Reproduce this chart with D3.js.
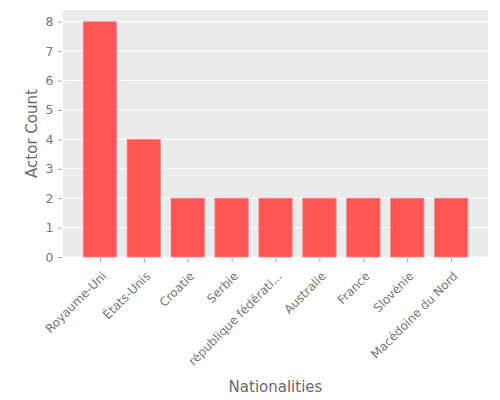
<!DOCTYPE html>
<html>
<head>
<meta charset="utf-8">
<script src="https://cdn.jsdelivr.net/npm/d3@7"></script>
<style>
  html, body { margin: 0; padding: 0; background: #fff; }
  text { font-family: "DejaVu Sans", sans-serif; }
</style>
</head>
<body>
<svg id="chart" width="500" height="400"></svg>
<script>
const categories = ["Royaume-Uni", "États-Unis", "Croatie", "Serbie", "république fédérati...", "Australie", "France", "Slovénie", "Macédoine du Nord"];
const actorCounts = [8, 4, 2, 2, 2, 2, 2, 2, 2];
const yTicks = [0, 1, 2, 3, 4, 5, 6, 7, 8];
const xTitle = "Nationalities";
const yTitle = "Actor Count";

const svg = d3.select("#chart");
const L = 63, R = 488, T = 10, B = 257;

const x = d3.scaleLinear().domain([-0.84, categories.length - 1 + 0.84]).range([L, R]);
const y = d3.scaleLinear().domain([0, 8.4]).range([B, T]);
const barW = 0.76;

svg.append("rect").attr("x", L).attr("y", T).attr("width", R - L).attr("height", B - T).attr("fill", "#EBEBEB");

// grid
svg.append("g").selectAll("line").data(yTicks).join("line")
  .attr("x1", L).attr("x2", R)
  .attr("y1", d => y(d)).attr("y2", d => y(d))
  .attr("stroke", "#fff").attr("stroke-width", 1);

// bars
svg.append("g").selectAll("rect").data(actorCounts).join("rect")
  .attr("x", (d, i) => x(i - barW / 2))
  .attr("width", x(barW) - x(0))
  .attr("y", d => y(d))
  .attr("height", d => y(0) - y(d))
  .attr("fill", "#FF5555")
  .attr("stroke", "#FF8A8A")
  .attr("stroke-width", 0.8);

// y axis
const yAxis = d3.axisLeft(y).tickValues(yTicks).tickSize(3.5).tickPadding(4.5);
const gy = svg.append("g").attr("transform", `translate(${L - 1.5},0)`).call(yAxis);
gy.select(".domain").remove();
gy.selectAll(".tick line").attr("stroke", "#999");
gy.selectAll(".tick text").attr("fill", "#777").attr("font-size", 12.5).attr("font-family", "DejaVu Sans");

// x axis
const xAxis = d3.axisBottom(x).tickValues(categories.map((c, i) => i)).tickFormat(i => categories[i]).tickSize(3.5);
const gx = svg.append("g").attr("transform", `translate(0,${B + 1.5})`).call(xAxis);
gx.select(".domain").remove();
gx.selectAll(".tick line").attr("stroke", "#999");
gx.selectAll(".tick text")
  .attr("fill", "#777").attr("font-size", 12).attr("font-family", "DejaVu Sans")
  .attr("text-anchor", "end")
  .attr("x", 0).attr("y", 0).attr("dy", "0.75em")
  .attr("transform", "translate(0.5,12) rotate(-45)");

// titles
svg.append("text").attr("x", (L + R) / 2).attr("y", 392)
  .attr("text-anchor", "middle").attr("font-size", 15)
  .attr("fill", "#6a6a6a").text(xTitle);
svg.append("text").attr("transform", `translate(37,${(T + B) / 2}) rotate(-90)`)
  .attr("text-anchor", "middle").attr("font-size", 15)
  .attr("fill", "#6a6a6a").text(yTitle);
</script>
</body>
</html>
